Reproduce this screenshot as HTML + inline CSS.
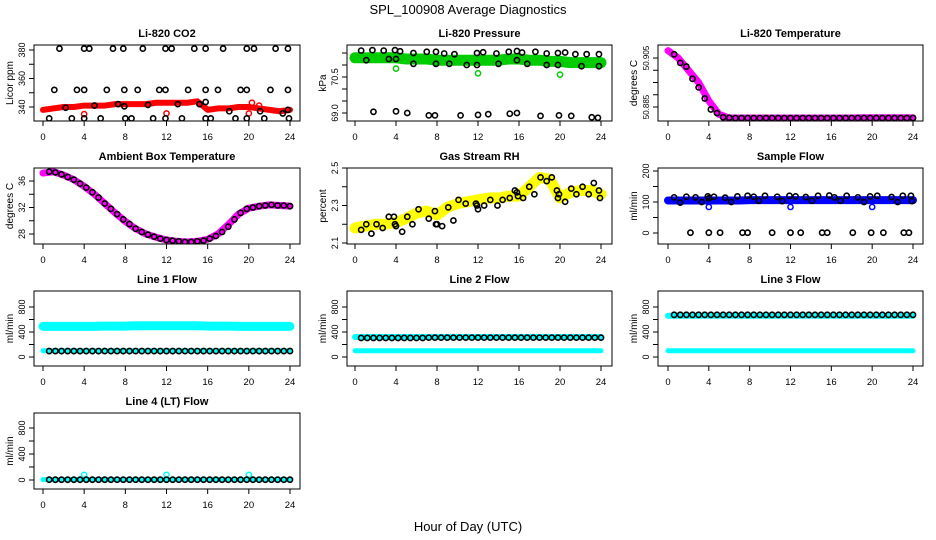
<!DOCTYPE html>
<html><head><meta charset="utf-8"><style>
body{margin:0;background:#fff}
svg{display:block;font-family:"Liberation Sans",Arial,sans-serif}
</style></head><body>
<svg id="chart" width="936" height="540" viewBox="0 0 936 540" xmlns="http://www.w3.org/2000/svg">
<rect x="0" y="0" width="936" height="540" fill="#fff"/>
<text x="468" y="14" text-anchor="middle" font-size="13">SPL_100908  Average Diagnostics</text>
<text x="468" y="531" text-anchor="middle" font-size="13">Hour of Day (UTC)</text>
</svg>
<script>
// ---------- data ----------
const bandHours = [0,1,2,3,4,5,6,7,8,9,10,11,12,13,14,15,16,17,18,19,20,21,22,23,24];
const blackHours = [0.6,1.2,1.8,2.4,3.0,3.6,4.2,4.8,5.4,6.0,6.6,7.2,7.8,8.4,9.0,9.6,10.2,10.8,11.4,12.0,12.6,13.2,13.8,14.4,15.0,15.6,16.2,16.8,17.4,18.0,18.6,19.2,19.8,20.4,21.0,21.6,22.2,22.8,23.4,24.0];
const xTicks = [0,4,8,12,16,20,24];

// CO2
const co2Band = [338,339,340,340,341,341,341,342,342,342,342,343,343,343,343,344,338,339,339,340,340,339,338,337,338];
const co2BlackX = [1.6,4,4.5,6.8,7.8,9.7,11.9,12.5,14.7,15.8,17.5,19.8,20.5,22.6,23.8, 1.1,3.3,4,6.2,7.9,9.2,11.3,11.9,14.1,15.8,17,19.2,19.8,22.1,23.8, 0.6,2.8,4,5.6,8,8.6,10.7,11.9,13.5,15.8,16.3,18.7,19.8,21.5,23.9, 2.2,5,7.3,7.9,10.2,13.1,15.2,15.8,18.1,21.1,23.3,23.8];
const co2BlackY = [381,381,381,381,381,381,381,381,381,381,381,381,381,381,381, 352,352,352,352,352,352,352,352,352,352,352,352,352,352,352, 332,332,332,332,332,332,332,332,332,332,332,332,332,332,332, 339.5,341,342,340.5,341.5,342,342,343.5,337,337,335.5,338];
const co2OutX = [4,12,20,20.3,21];
const co2OutY = [335,335.5,335.5,343,341];

// Pressure
const presBand = [71.3,71.3,71.3,71.3,71.3,71.25,71.25,71.25,71.2,71.2,71.2,71.2,71.2,71.2,71.2,71.25,71.25,71.2,71.2,71.15,71.15,71.1,71.1,71.1,71.1];
const presBlackX = [0.6,1.7,2.8,3.9,4.4,5.7,7.0,7.9,8.7,9.7,11.9,12.5,13.8,15.0,15.8,16.3,17.6,18.7,19.8,20.5,21.5,22.6,23.8, 1.1,3.3,4.0,5.7,7.9,9.2,10.9,11.9,14.0,15.8,16.8,18.7,19.8,22.1,23.8, 1.8,4.0,5.1,7.2,7.8,10.3,12.0,13.0,15.1,15.8,18.1,19.9,21.1,23.1,23.7];
const presBlackY = [71.6,71.62,71.6,71.62,71.57,71.5,71.55,71.55,71.48,71.45,71.5,71.53,71.48,71.55,71.58,71.52,71.55,71.48,71.5,71.52,71.45,71.45,71.45, 71.2,71.25,71.25,71.05,71.05,71.05,71.0,71.0,71.05,71.2,71.05,71.0,71.0,70.95,70.95, 69.05,69.07,69.0,68.9,68.9,68.9,68.92,68.95,68.97,69.0,68.88,68.9,68.88,68.82,68.8];
const presOutX = [4,12,20];
const presOutY = [70.85,70.65,70.6];

// Li-820 Temperature
const ltBand = [50.908,50.905,50.9,50.895,50.8875,50.882,50.8805,50.8805,50.8805,50.8805,50.8805,50.8805,50.8805,50.8805,50.8805,50.8805,50.8805,50.8805,50.8805,50.8806,50.8806,50.8806,50.8806,50.8806,50.8806];
const ltBlack = [50.9065,50.903,50.9015,50.8965,50.893,50.8885,50.884,50.8825,50.8808,50.8806,50.8805,50.8805,50.8805,50.8805,50.8805,50.8805,50.8805,50.8805,50.8805,50.8805,50.8805,50.8805,50.8805,50.8805,50.8805,50.8805,50.8805,50.8805,50.8805,50.8805,50.8805,50.8805,50.8805,50.8805,50.8805,50.8805,50.8805,50.8805,50.8805,50.8805];

// Ambient
const ambBand = [37.2,37.4,36.9,36.2,35.2,34.0,32.6,31.2,29.9,28.8,28.0,27.5,27.1,26.9,26.8,26.9,27.2,28.0,29.4,31.0,31.9,32.2,32.4,32.3,32.2];
const ambBlack = [37.4,37.3,37.0,36.6,36.2,35.6,35.0,34.3,33.5,32.6,31.8,31.0,30.2,29.5,28.8,28.3,27.9,27.6,27.3,27.1,27.0,26.9,26.8,26.8,26.9,27.0,27.3,27.7,28.3,29.1,30.2,31.2,31.8,32.0,32.2,32.3,32.4,32.3,32.3,32.2];

// Gas RH
const rhBand = [2.18,2.19,2.2,2.2,2.21,2.23,2.26,2.27,2.25,2.29,2.31,2.32,2.33,2.34,2.34,2.35,2.35,2.4,2.45,2.44,2.34,2.37,2.38,2.38,2.36];
const rhBlackX = [0.6,1.1,1.6,2.1,2.7,3.3,3.8,3.9,4.0,4.6,5.1,5.6,6.2,7.2,7.8,7.9,8.0,8.5,9.1,9.6,10.1,10.8,11.8,11.9,12.0,12.6,13.2,13.9,14.4,15.1,15.6,15.8,15.9,16.4,17.0,17.5,18.1,18.7,19.2,19.7,19.8,19.9,20.5,21.1,21.6,22.2,22.8,23.3,23.8,23.9];
const rhBlackY = [2.17,2.2,2.15,2.2,2.18,2.24,2.24,2.2,2.19,2.16,2.24,2.2,2.28,2.23,2.27,2.2,2.2,2.19,2.29,2.22,2.33,2.31,2.31,2.3,2.28,2.3,2.33,2.3,2.33,2.34,2.38,2.37,2.35,2.34,2.4,2.36,2.45,2.43,2.45,2.38,2.34,2.36,2.32,2.39,2.36,2.4,2.36,2.42,2.38,2.34];

// Sample flow
const sfBand = [105,105,105,105,105,105,105,105,106,106,106,106,106,106,106,106,106,106,106,106,106,106,106,106,106];
const sfBlackX = [0.6,1.2,1.8,2.7,3.3,3.9,4.0,4.5,5.6,6.2,6.8,7.8,8.4,8.9,9.5,10.7,11.2,11.9,12.5,13.5,14.1,14.7,15.8,16.3,16.9,17.5,18.6,19.2,19.8,20.5,21.9,22.5,23.0,23.8,23.9, 2.2,4.0,5.1,7.3,7.8,10.2,12.0,13.0,15.1,15.6,18.1,19.9,21.1,23.1,23.6];
const sfBlackY = [115,98,117,115,100,118,112,117,114,100,118,120,117,104,120,117,103,120,118,116,104,120,121,115,104,120,115,100,118,120,116,100,120,120,103, 1,1,1,1,1,1,1,1,1,1,1,1,1,1,1];
const sfOutX = [4,12,20];
const sfOutY = [84,84,84];

// Line flows
const l1Band = [490,490,490,490,490,490,495,495,495,500,500,500,500,500,500,500,495,495,495,490,490,490,490,490,490];
const l1Low = [100,100,100,100,100,100,100,100,100,100,100,100,100,100,100,100,100,100,100,100,100,100,100,100,100];
const l1Black = [95,95,95,95,95,95,95,95,95,95,95,95,95,95,95,95,95,95,95,95,95,95,95,95,95,95,95,95,95,95,95,95,95,95,95,95,95,95,95,95];
const l2Band = [320,320,320,320,320,320,320,320,320,320,320,320,320,320,320,320,320,320,320,320,320,320,320,320,320];
const l2Low = [100,100,100,100,100,100,100,100,100,100,100,100,100,100,100,100,100,100,100,100,100,100,100,100,100];
const l2Black = [305,305,305,305,305,305,305,305,305,305,305,310,310,310,310,310,310,310,310,310,310,310,310,310,310,310,310,310,310,310,310,310,310,310,310,310,310,310,310,310];
const l3Band = [660,660,660,660,660,660,660,660,660,660,660,660,660,660,660,660,660,660,660,660,660,660,660,660,660];
const l3Low = [100,100,100,100,100,100,100,100,100,100,100,100,100,100,100,100,100,100,100,100,100,100,100,100,100];
const l3Black = [675,675,675,675,675,675,675,675,675,675,675,675,675,675,675,675,675,675,675,675,675,675,675,675,675,675,675,675,675,675,675,675,675,675,675,675,675,675,675,675];
const l4Band = [5,5,5,5,5,5,5,5,5,5,5,5,5,5,5,5,5,5,5,5,5,5,5,5,5];
const l4Black = [5,5,5,5,5,5,5,5,5,5,5,5,5,5,5,5,5,5,5,5,5,5,5,5,5,5,5,5,5,5,5,5,5,5,5,5,5,5,5,5];
const l4OutX = [4,12,20];
const l4OutY = [80,80,80];

// ---------- drawing ----------
const NS = 'http://www.w3.org/2000/svg';
const svg = document.getElementById('chart');
const COLS = [{l:34,r:300,x0:43,x24:290},{l:347,r:612,x0:355,x24:601},{l:658,r:923,x0:668,x24:913}];
const ROWS = [{t:45,b:121},{t:168,b:244},{t:291,b:366},{t:413,b:489}];

function mk(tag, attrs, parent) {
  const e = document.createElementNS(NS, tag);
  for (const k in attrs) e.setAttribute(k, attrs[k]);
  (parent || svg).appendChild(e);
  return e;
}

function panel(cfg) {
  const c = COLS[cfg.col], r = ROWS[cfg.row];
  const g = mk('g', {});
  
  
  const xs = h => c.x0 + (c.x24 - c.x0) * h / 24;
  const ys = v => cfg.p1 + (v - cfg.v1) * (cfg.p2 - cfg.p1) / (cfg.v2 - cfg.v1);
  const clip = 'clip-' + cfg.name;
  const cp = mk('clipPath', {id: clip}, g);
  mk('rect', {x: c.l, y: r.t, width: c.r - c.l, height: r.b - r.t}, cp);
  const plot = mk('g', {'clip-path': 'url(#' + clip + ')'}, g);
  
  
  (cfg.bands || []).forEach((b, i) => {
    const pts = bandHours.map((h, j) => xs(h) + ',' + ys(b.vals[j])).join(' ');
    const pl = mk('polyline', {points: pts, fill: 'none', stroke: b.color, 'stroke-width': b.w, 'stroke-linejoin': 'round', 'stroke-linecap': 'round'}, plot);
    
    
  });
  (cfg.outs || []).forEach(o => {
    o.x.forEach((h, j) => {
      const ci = mk('circle', {cx: xs(h), cy: ys(o.y[j]), r: 2.6, fill: 'none', stroke: o.color, 'stroke-width': 1.5}, plot);
      
      
    });
  });
  (cfg.blacks || []).forEach(bk => {
    bk.x.forEach((h, j) => {
      const ci = mk('circle', {cx: xs(h), cy: ys(bk.y[j]), r: 2.6, fill: 'none', stroke: '#000', 'stroke-width': 1.6}, plot);
      
      
    });
  });
  const box = mk('rect', {x: c.l, y: r.t, width: c.r - c.l, height: r.b - r.t, fill: 'none', stroke: '#000', 'stroke-width': 1}, g);
  
  
  xTicks.forEach(t => {
    const x = xs(t);
    mk('line', {x1: x, x2: x, y1: r.b, y2: r.b + 5, stroke: '#000'}, g);
    const tx = mk('text', {x: x, y: r.b + 19, 'text-anchor': 'middle', 'font-size': 9.5}, g);
    tx.textContent = t;
    
    
  });
  cfg.yTicks.forEach(t => {
    const y = ys(t);
    mk('line', {x1: c.l - 5, x2: c.l, y1: y, y2: y, stroke: '#000'}, g);
  });
  const fs = cfg.yfs || 9;
  cfg.yLabels.forEach((t, i) => {
    const y = ys(t);
    const tx = mk('text', {x: 0, y: 0, 'text-anchor': 'middle', 'font-size': fs, transform: 'translate(' + (c.l - 9) + ',' + y + ') rotate(-90)'}, g);
    tx.textContent = cfg.yLabelText ? cfg.yLabelText[i] : t;
    
    
  });
  const yt = mk('text', {x: 0, y: 0, 'text-anchor': 'middle', 'font-size': 10, transform: 'translate(' + (c.l - 21) + ',' + ((r.t + r.b) / 2) + ') rotate(-90)'}, g);
  yt.textContent = cfg.ylab;
  
  
  const ti = mk('text', {x: (c.l + c.r) / 2, y: r.t - 8, 'text-anchor': 'middle', 'font-size': 11, 'font-weight': 'bold'}, g);
  ti.textContent = cfg.title;
  
  
}

const flowTicks = [0,200,400,600,800];
const flowLabels = [0,400,800];

panel({name:'co2', title:'Li-820 CO2', ylab:'Licor ppm', col:0, row:0, v1:340, p1:107, v2:380, p2:50,
  yTicks:[340,350,360,370,380], yLabels:[340,360,380],
  bands:[{vals:co2Band, color:'#ff0000', w:6}],
  outs:[{x:co2OutX, y:co2OutY, color:'#ff0000'}],
  blacks:[{x:co2BlackX, y:co2BlackY}]});
panel({name:'pressure', title:'Li-820 Pressure', ylab:'kPa', col:1, row:0, v1:70.5, p1:77, v2:69.0, p2:113,
  yTicks:[69.0,69.5,70.0,70.5,71.0,71.5], yLabels:[69.0,70.5], yLabelText:['69.0','70.5'],
  bands:[{vals:presBand, color:'#00cc00', w:11}],
  outs:[{x:presOutX, y:presOutY, color:'#00cc00'}],
  blacks:[{x:presBlackX, y:presBlackY}]});
panel({name:'li820-temp', title:'Li-820 Temperature', ylab:'degrees C', col:2, row:0, v1:50.905, p1:58, v2:50.885, p2:107,
  yTicks:[50.885,50.89,50.895,50.9,50.905], yLabels:[50.885,50.905], yfs:8,
  bands:[{vals:ltBand, color:'#ff00ff', w:7}],
  blacks:[{x:blackHours, y:ltBlack}]});
panel({name:'ambient', title:'Ambient Box Temperature', ylab:'degrees C', col:0, row:1, v1:36, p1:181, v2:28, p2:234,
  yTicks:[28,30,32,34,36], yLabels:[28,32,36],
  bands:[{vals:ambBand, color:'#ff00ff', w:7}],
  blacks:[{x:blackHours, y:ambBlack}]});
panel({name:'gas-rh', title:'Gas Stream RH', ylab:'percent', col:1, row:1, v1:2.5, p1:168, v2:2.1, p2:243,
  yTicks:[2.1,2.2,2.3,2.4,2.5], yLabels:[2.1,2.3,2.5],
  bands:[{vals:rhBand, color:'#ffff00', w:11}],
  blacks:[{x:rhBlackX, y:rhBlackY}]});
panel({name:'sample-flow', title:'Sample Flow', ylab:'ml/min', col:2, row:1, v1:200, p1:171, v2:0, p2:233,
  yTicks:[0,50,100,150,200], yLabels:[0,100,200],
  bands:[{vals:sfBand, color:'#0000ff', w:8}],
  outs:[{x:sfOutX, y:sfOutY, color:'#0000ff'}],
  blacks:[{x:sfBlackX, y:sfBlackY}]});
panel({name:'line1-flow', title:'Line 1 Flow', ylab:'ml/min', col:0, row:2, v1:0, p1:357, v2:800, p2:307,
  yTicks:flowTicks, yLabels:flowLabels,
  bands:[{vals:l1Band, color:'#00ffff', w:9},{vals:l1Low, color:'#00ffff', w:5}],
  blacks:[{x:blackHours, y:l1Black}]});
panel({name:'line2-flow', title:'Line 2 Flow', ylab:'ml/min', col:1, row:2, v1:0, p1:357, v2:800, p2:307,
  yTicks:flowTicks, yLabels:flowLabels,
  bands:[{vals:l2Band, color:'#00ffff', w:6},{vals:l2Low, color:'#00ffff', w:5}],
  blacks:[{x:blackHours, y:l2Black}]});
panel({name:'line3-flow', title:'Line 3 Flow', ylab:'ml/min', col:2, row:2, v1:0, p1:357, v2:800, p2:307,
  yTicks:flowTicks, yLabels:flowLabels,
  bands:[{vals:l3Band, color:'#00ffff', w:6},{vals:l3Low, color:'#00ffff', w:5}],
  blacks:[{x:blackHours, y:l3Black}]});
panel({name:'line4-flow', title:'Line 4 (LT) Flow', ylab:'ml/min', col:0, row:3, v1:0, p1:480, v2:800, p2:428,
  yTicks:flowTicks, yLabels:flowLabels,
  bands:[{vals:l4Band, color:'#00ffff', w:5}],
  outs:[{x:l4OutX, y:l4OutY, color:'#00ffff'}],
  blacks:[{x:blackHours, y:l4Black}]});
</script>
</body></html>
